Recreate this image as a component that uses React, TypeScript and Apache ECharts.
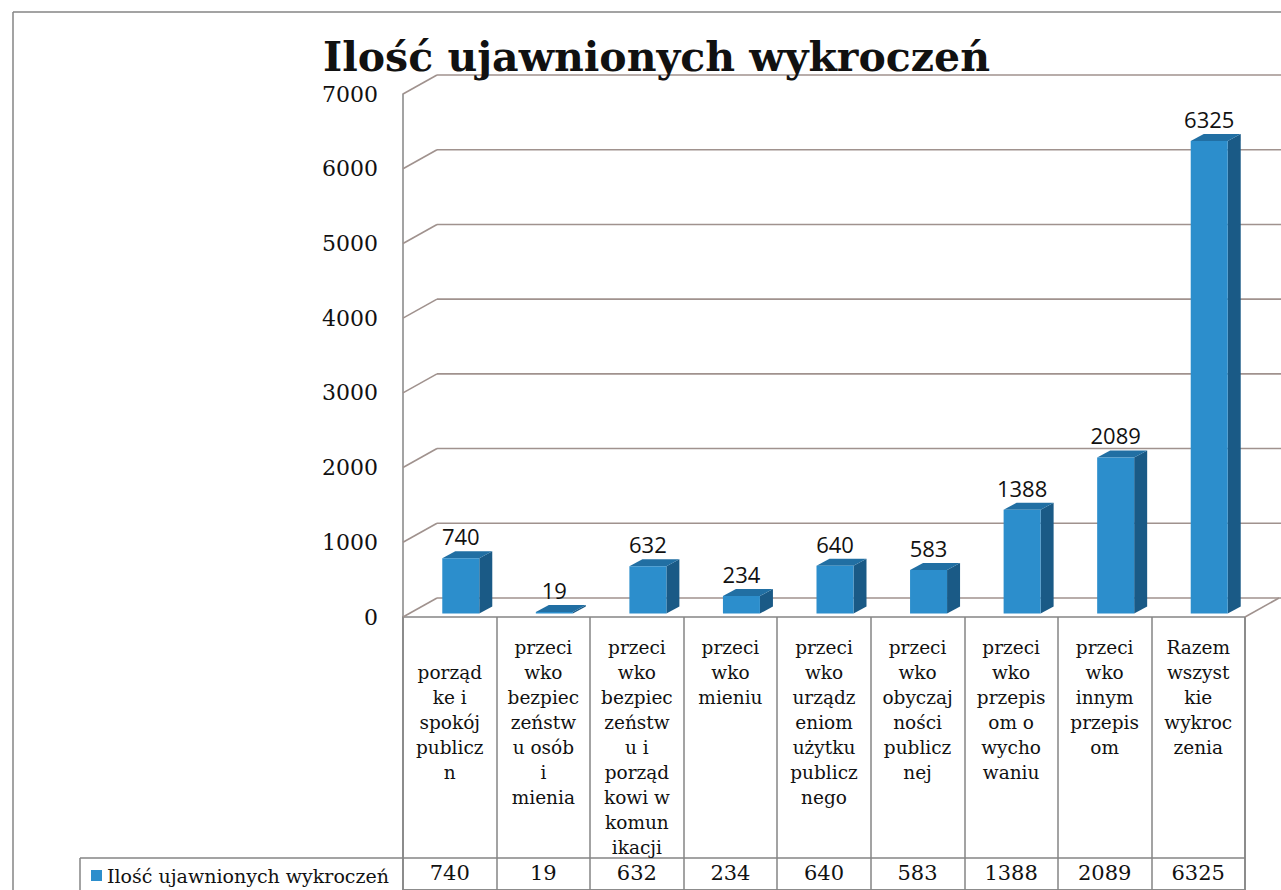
import React, { useEffect, useRef } from "react";
import * as echarts from "echarts";

const chartTitle = "Ilość ujawnionych wykroczeń";
const seriesName = "Ilość ujawnionych wykroczeń";
const categories = [
  "\nporząd\nke i\nspokój\npublicz\nn",
  "przeci\nwko\nbezpiec\nzeństw\nu osób\ni\nmienia",
  "przeci\nwko\nbezpiec\nzeństw\nu i\nporząd\nkowi w\nkomun\nikacji",
  "przeci\nwko\nmieniu",
  "przeci\nwko\nurządz\neniom\nużytku\npublicz\nnego",
  "przeci\nwko\nobyczaj\nności\npublicz\nnej",
  "przeci\nwko\nprzepis\nom o\nwycho\nwaniu",
  "przeci\nwko\ninnym\nprzepis\nom",
  "Razem\nwszyst\nkie\nwykroc\nzenia",
];
const counts = [740, 19, 632, 234, 640, 583, 1388, 2089, 6325];
const yTicks = [0, 1000, 2000, 3000, 4000, 5000, 6000, 7000];

const W = 1281;
const H = 890;
const PLOT_LEFT = 403;
const PLOT_RIGHT = 1245;
const FLOOR_Y = 617;
const TOP_Y = 94;
const WALL_DX = 34;
const WALL_DY = -19;
const BAR_DX = 11;
const BAR_DY = -3.5;
const BAR_W = 37;
const BAR_DEPTH_X = 13;
const BAR_DEPTH_Y = -7;

const FRONT = "#2C8ECC";
const SIDE = "#1A5A86";
const TOPC = "#216FA3";
const GRID_C = "#a0928e";
const LINE_C = "#858585";
const SERIF = "'DejaVu Serif', serif";

export default function App() {
  const ref = useRef<HTMLDivElement>(null);
  useEffect(() => {
    if (!ref.current) return;
    const chart = echarts.init(ref.current, undefined, { renderer: "svg" });
    const option: any = {
      animation: false,
      backgroundColor: "#ffffff",
      title: {
        text: chartTitle,
        left: 318,
        top: 31,
        textStyle: { fontFamily: SERIF, fontWeight: "bold", fontSize: 41, color: "#111" },
      },
      legend: {
        left: 86,
        top: 861,
        icon: "rect",
        itemWidth: 11,
        itemHeight: 11,
        itemGap: 4,
        textStyle: { fontFamily: SERIF, fontSize: 19, color: "#111" },
        data: [seriesName],
      },
      grid: [
        { left: PLOT_LEFT, right: W - PLOT_RIGHT, top: TOP_Y, bottom: H - FLOOR_Y },
        {
          left: PLOT_LEFT,
          right: W - PLOT_RIGHT,
          top: FLOOR_Y,
          bottom: -2,
          show: true,
          borderColor: LINE_C,
          borderWidth: 1.5,
          backgroundColor: "transparent",
        },
      ],
      xAxis: [
        { type: "category", gridIndex: 0, data: categories, show: false },
        {
          type: "category",
          gridIndex: 1,
          position: "top",
          data: categories,
          axisLine: { show: true, lineStyle: { color: LINE_C, width: 1.5 } },
          axisTick: { show: false },
          splitLine: { show: true, lineStyle: { color: LINE_C, width: 1.5 } },
          axisLabel: {
            inside: true,
            interval: 0,
            margin: 18,
            verticalAlign: "top",
            fontFamily: SERIF,
            fontSize: 18.5,
            lineHeight: 25,
            color: "#111",
          },
        },
        {
          type: "category",
          gridIndex: 1,
          position: "bottom",
          data: categories,
          axisLine: { show: false },
          axisTick: { show: false },
          axisLabel: {
            inside: true,
            interval: 0,
            margin: 17,
            verticalAlign: "middle",
            fontFamily: SERIF,
            fontSize: 21,
            color: "#111",
            formatter: (_v: string, i: number) => String(counts[i]),
          },
        },
      ],
      yAxis: [
        {
          type: "value",
          gridIndex: 0,
          min: 0,
          max: 7000,
          interval: 1000,
          axisLine: { show: true, lineStyle: { color: LINE_C, width: 1.5 } },
          axisTick: { show: false },
          splitLine: { show: false },
          axisLabel: {
            margin: 25,
            fontFamily: SERIF,
            fontSize: 22,
            color: "#111",
            formatter: (v: number) => String(v),
          },
        },
        { type: "value", gridIndex: 1, min: 0, max: 1, show: false },
      ],
      series: [
        {
          type: "custom",
          name: "walls",
          xAxisIndex: 0,
          yAxisIndex: 0,
          z: 1,
          silent: true,
          data: yTicks.map((v) => [0, v]),
          renderItem: (params: any, api: any) => {
            const cs = params.coordSys;
            const v = api.value(1);
            const y = api.coord([0, v])[1];
            const x0 = cs.x;
            const xr = cs.x + cs.width;
            const style = { stroke: GRID_C, lineWidth: 1.6, fill: null };
            const children: any[] = [
              { type: "line", shape: { x1: x0, y1: y, x2: x0 + WALL_DX, y2: y + WALL_DY }, style },
              { type: "line", shape: { x1: x0 + WALL_DX, y1: y + WALL_DY, x2: xr + 200, y2: y + WALL_DY }, style },
            ];
            if (v === 0) {
              children.push({
                type: "line",
                shape: { x1: xr, y1: y, x2: xr + WALL_DX, y2: y + WALL_DY },
                style,
              });
            }
            return { type: "group", children };
          },
        },
        {
          type: "custom",
          name: seriesName,
          xAxisIndex: 0,
          yAxisIndex: 0,
          z: 3,
          itemStyle: { color: FRONT },
          data: counts.map((v, i) => [i, v]),
          renderItem: (params: any, api: any) => {
            const idx = api.value(0);
            const v = api.value(1);
            const base = api.coord([idx, 0]);
            const top = api.coord([idx, v]);
            const cx = base[0] + BAR_DX;
            const xl = cx - BAR_W / 2;
            const xr = cx + BAR_W / 2;
            const yb = base[1] + BAR_DY;
            const yt = top[1] + BAR_DY;
            return {
              type: "group",
              children: [
                {
                  type: "polygon",
                  shape: { points: [[xr, yt], [xr + BAR_DEPTH_X, yt + BAR_DEPTH_Y], [xr + BAR_DEPTH_X, yb + BAR_DEPTH_Y], [xr, yb]] },
                  style: { fill: SIDE },
                },
                {
                  type: "polygon",
                  shape: { points: [[xl, yt], [xr, yt], [xr + BAR_DEPTH_X, yt + BAR_DEPTH_Y], [xl + BAR_DEPTH_X, yt + BAR_DEPTH_Y]] },
                  style: { fill: TOPC },
                },
                {
                  type: "rect",
                  shape: { x: xl, y: yt, width: BAR_W, height: Math.max(yb - yt, 0.5) },
                  style: { fill: FRONT },
                },
                {
                  type: "text",
                  x: cx,
                  y: yt - 11,
                  style: {
                    text: String(v),
                    align: "center",
                    verticalAlign: "bottom",
                    fontFamily: "'Open Sans', sans-serif",
                    fontSize: 22,
                    fill: "#111",
                  },
                },
              ],
            };
          },
        },
      ],
      graphic: [
        { type: "line", shape: { x1: 13, y1: 12, x2: W + 5, y2: 12 }, style: { stroke: LINE_C, lineWidth: 1.5 } },
        { type: "line", shape: { x1: 13, y1: 12, x2: 13, y2: H + 5 }, style: { stroke: LINE_C, lineWidth: 1.5 } },
        { type: "line", shape: { x1: 80, y1: 858, x2: PLOT_RIGHT, y2: 858 }, style: { stroke: LINE_C, lineWidth: 1.5 } },
        { type: "line", shape: { x1: 80, y1: 858, x2: 80, y2: H + 5 }, style: { stroke: LINE_C, lineWidth: 1.5 } },
      ],
    };
    chart.setOption(option);
    return () => chart.dispose();
  }, []);
  return (
    <div
      ref={ref}
      style={{ position: "fixed", left: 0, top: 0, width: W, height: H }}
    />
  );
}
